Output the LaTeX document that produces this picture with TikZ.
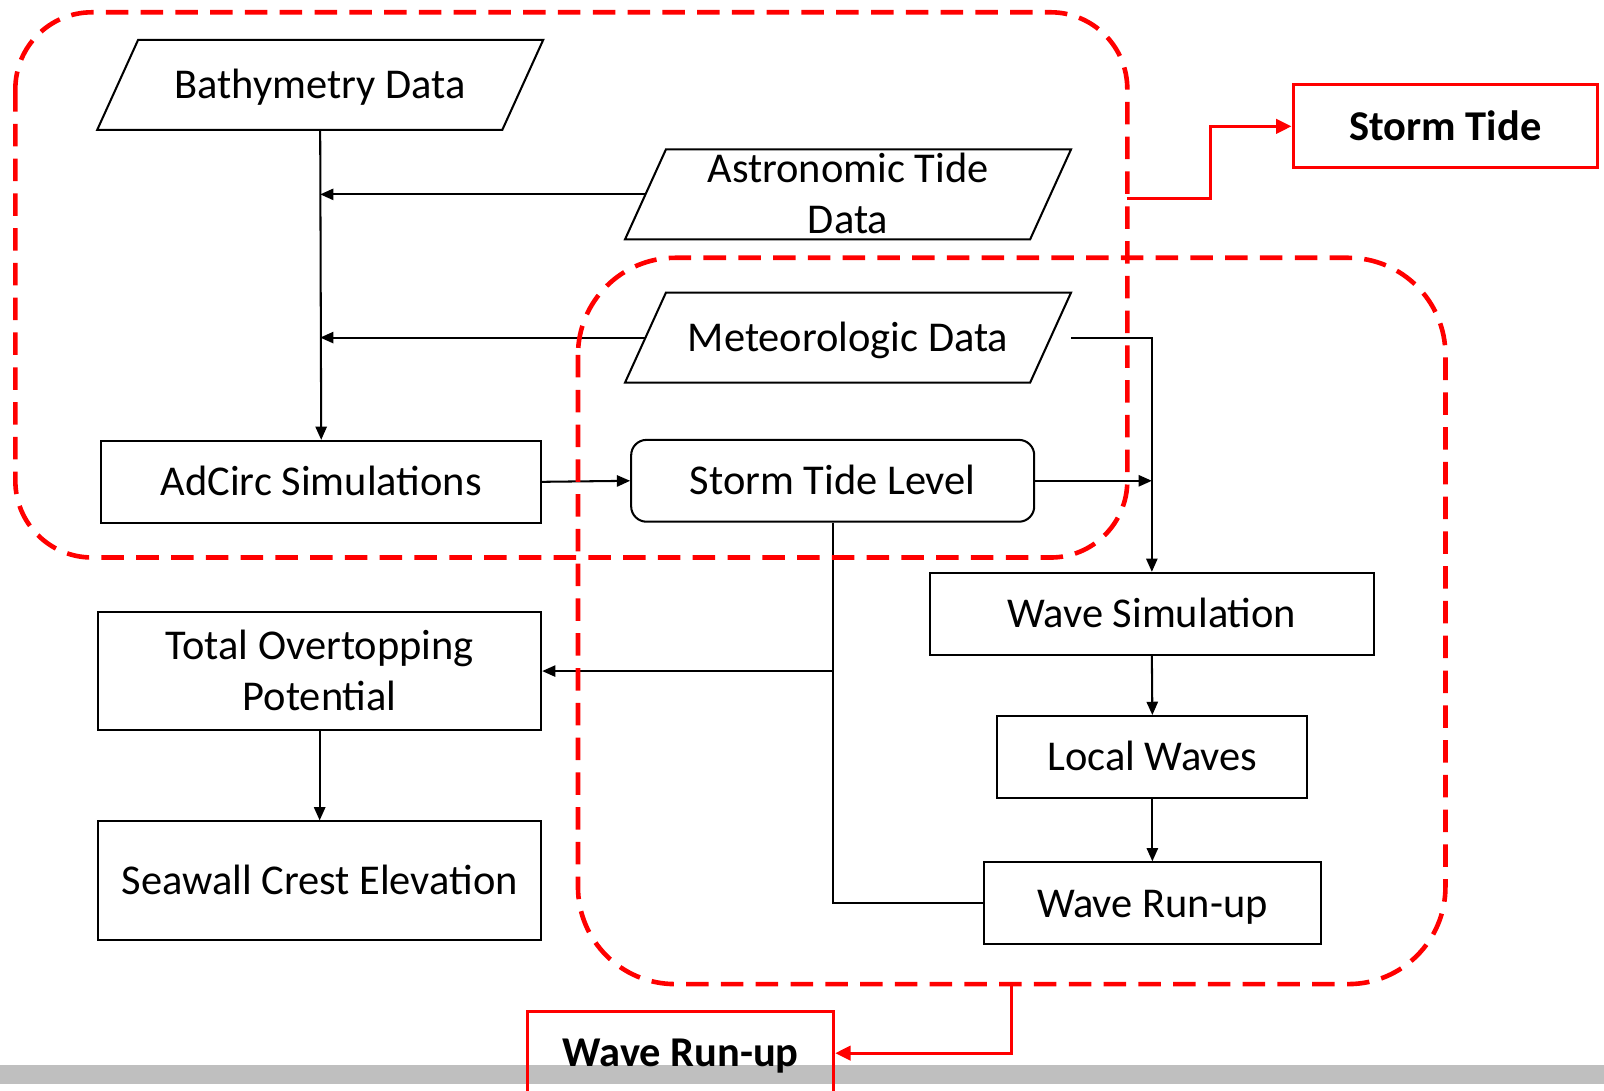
\documentclass[tikz,border=0pt]{standalone}
\usepackage{fontspec}
\setmainfont{Carlito}
\usetikzlibrary{arrows.meta}

\begin{document}
\begin{tikzpicture}[
            x=1pt, y=-1pt,
            every node/.style={font=\fontsize{41.5}{50}\selectfont, line width=2pt, text height=27pt, text depth=0pt},
            twolines/.style={text height=77pt},
            databox/.style={rectangle, minimum width=394pt, minimum height=86pt, inner sep=2pt, align=center},
            procbox/.style={draw, rectangle, minimum height=80pt, inner sep=2pt, align=center},
            tagbox/.style={draw=red, line width=3pt, rectangle, minimum height=81pt, font=\fontsize{41.5}{50}\selectfont\bfseries},
            flow/.style={line width=2pt, -{Triangle[length=13pt,width=11pt]}},
            tagflow/.style={red, line width=3pt, -{Triangle[length=15pt,width=14pt]}},
            region/.style={red, line width=4.5pt, dash pattern=on 22pt off 12pt},
          ]
          \useasboundingbox (0,0) rectangle (1568,1066);
          \fill[black!25] (0,1041) rectangle (1568,1060);
          % input data
          \node[databox] (bathy) at (313,83) {Bathymetry Data};
          \node[databox, twolines] (astro) at (829,190) {Astronomic Tide\\Data};
          \node[databox] (meteo) at (829,330) {Meteorologic Data};
          \foreach \n in {bathy,astro,meteo}
            \draw[line width=2pt] ([xshift=20pt]\n.north west) -- ([xshift=20pt]\n.north east)
              -- ([xshift=-20pt]\n.south east) -- ([xshift=-20pt]\n.south west) -- cycle;
          % processing
          \node[procbox, minimum width=430pt] (adcirc) at (314,471) {AdCirc Simulations};
          \node[procbox, minimum width=394pt, rounded corners=15pt] (stl) at (814,470) {Storm Tide Level};
          \node[procbox, minimum width=434pt] (wsim) at (1126,600) {Wave Simulation};
          \node[procbox, minimum width=303pt] (local) at (1126.5,740) {Local Waves};
          \node[procbox, minimum width=329pt] (wrun) at (1126.5,883) {Wave Run-up};
          \node[procbox, twolines, minimum width=433pt, minimum height=116pt] (tot) at (312.5,656) {Total Overtopping\\Potential};
          \node[procbox, minimum width=433pt, minimum height=116pt] (seawall) at (312.5,861) {Seawall Crest Elevation};
          % tags
          \node[tagbox, minimum width=298pt] (sttag) at (1413,123.5) {Storm Tide};
          \node[tagbox, minimum width=299pt] (wrtag) at (665.5,1029.5) {Wave Run-up};
          % connectors
          \draw[flow] (bathy.south) -- (adcirc.north);
          \draw[flow] (astro.west) -- (astro.west -| bathy.south);
          \draw[flow] (meteo.west) -- (meteo.west -| bathy.south);
          \draw[flow] (adcirc.east) -- (stl.west);
          \draw[flow] (stl.east) -- (stl.east -| wsim.north);
          \draw[flow] ([xshift=20pt]meteo.east) -| (wsim.north);
          \draw[flow] (wsim.south) -- (local.north);
          \draw[flow] (local.south) -- (wrun.north);
          \draw[line width=2pt] (stl.south) |- (wrun.west);
          \draw[flow] (stl.south |- tot.east) -- (tot.east);
          \draw[flow] (tot.south) -- (seawall.north);
          % dashed regions
          \draw[region, rounded corners=75pt] (15,12) rectangle (1102,545);
          \draw[region, rounded corners=95pt] (565,252) rectangle (1413,962);
          \coordinate (stexit) at (1102,194);
          \coordinate (wrexit) at (989,962);
          \draw[tagflow] (stexit) -- (1183,194) |- (sttag.west);
          \draw[tagflow] (wrexit) |- (wrtag.east);
        \end{tikzpicture}
\end{document}
